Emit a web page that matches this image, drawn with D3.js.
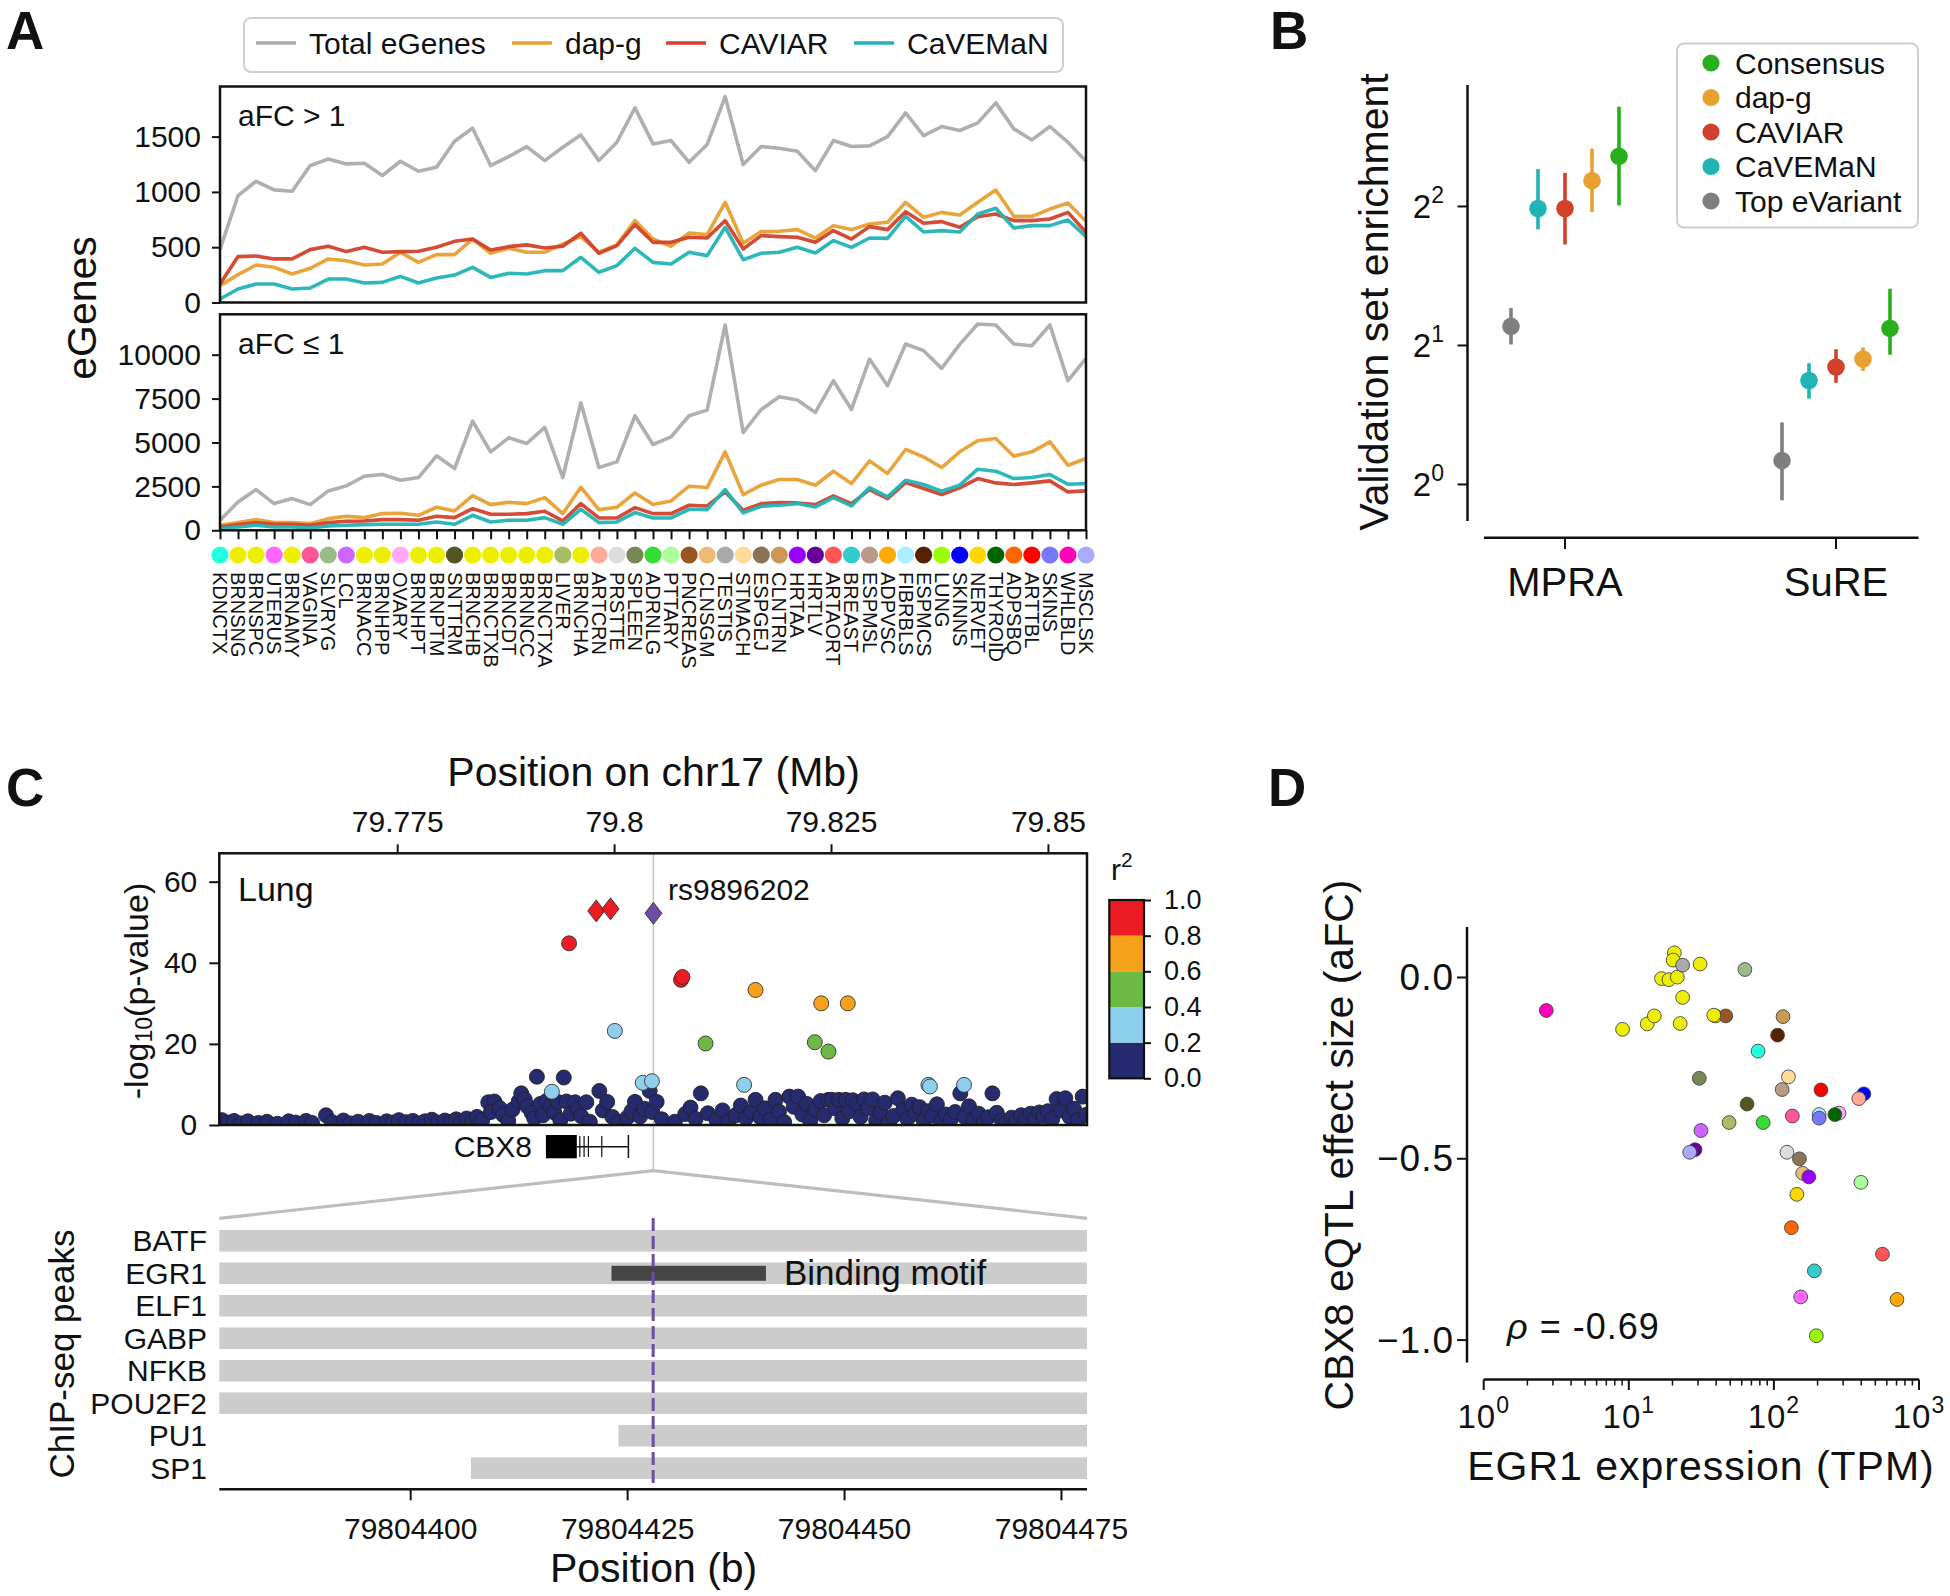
<!DOCTYPE html>
<html><head><meta charset="utf-8">
<script src="https://cdn.jsdelivr.net/npm/d3@7"></script>
<style>
body{margin:0;background:#fff}
text{font-family:"Liberation Sans",Arial,Helvetica,sans-serif;fill:#111}
</style>
</head><body>
<svg id="chart" width="1950" height="1596"></svg>
<script>
// ---------------- DATA ----------------
// Panel A
const tissues = ["KDNCTX","BRNSNG","BRNSPC","UTERUS","BRNAMY","VAGINA","SLVRYG","LCL","BRNACC","BRNHPP","OVARY","BRNHPT","BRNPTM","SNTTRM","BRNCHB","BRNCTXB","BRNCDT","BRNNCC","BRNCTXA","LIVER","BRNCHA","ARTCRN","PRSTTE","SPLEEN","ADRNLG","PTTARY","PNCREAS","CLNSGM","TESTIS","STMACH","ESPGEJ","CLNTRN","HRTAA","HRTLV","ARTAORT","BREAST","ESPMSL","ADPVSC","FIBRBLS","ESPMCS","LUNG","SKINNS","NERVET","THYROID","ADPSBQ","ARTTBL","SKINS","WHLBLD","MSCLSK"];
const tissueColors = ["#22FFDD","#EEEE00","#EEEE00","#FF66FF","#EEEE00","#FF5599","#99BB88","#CC66FF","#EEEE00","#EEEE00","#FFAAFF","#EEEE00","#EEEE00","#555522","#EEEE00","#EEEE00","#EEEE00","#EEEE00","#EEEE00","#AABB66","#EEEE00","#FFAA99","#DDDDDD","#778855","#33DD33","#AAFF99","#995522","#EEBB77","#AAAAAA","#FFDD99","#8B7355","#CC9955","#9900FF","#660099","#FF5555","#33CCCC","#BB9988","#FFAA00","#AAEEFF","#552200","#99FF00","#0000FF","#FFD700","#006600","#FF6600","#FF0000","#7777FF","#FF00BB","#AAAAFF"];
const seriesNames = ["Total eGenes","dap-g","CAVIAR","CaVEMaN"];
const seriesColors = ["#ababab","#e8a030","#d2412b","#22b3b5"];
const totalHigh = [480,967,1096,1018,1006,1238,1298,1253,1259,1148,1277,1187,1223,1458,1576,1238,1319,1410,1283,1404,1515,1283,1449,1760,1434,1464,1268,1428,1862,1247,1410,1395,1368,1192,1464,1410,1416,1500,1715,1509,1591,1555,1624,1805,1570,1470,1591,1449,1277];
const dapHigh = [152,252,339,318,258,309,394,378,339,348,454,363,433,433,574,445,490,454,454,530,596,454,521,741,574,508,629,614,906,535,641,644,659,583,695,659,710,725,906,770,815,791,906,1018,779,779,845,900,734];
const caviarHigh = [167,415,421,394,394,478,508,460,499,454,460,463,499,553,574,475,505,521,493,508,626,445,514,704,544,544,590,583,740,484,605,596,590,544,650,574,686,659,821,716,731,680,776,800,740,740,755,815,635];
const cavemanHigh = [32,122,167,167,122,131,212,212,176,182,236,176,221,248,318,227,264,258,288,288,409,273,333,490,363,348,454,424,680,387,445,454,499,448,560,499,583,580,779,638,650,638,800,852,674,695,695,746,596];
const totalLow = [570,1616,2319,1521,1806,1464,2243,2529,3080,3175,2852,3004,4240,3517,6217,4468,5266,4943,5856,3004,7262,3574,3897,6521,4886,5323,6521,6844,11692,5570,6882,7605,7414,6711,8517,6882,9753,8232,10608,10228,9220,10589,11749,11692,10608,10513,11692,8517,9791];
const dapLow = [285,437,608,437,437,380,665,798,722,950,970,855,1312,1103,1977,1464,1597,1521,1863,950,2452,1179,1312,2129,1464,1673,2510,2433,4468,2034,2567,2890,2890,2567,3365,2662,3954,3232,4601,4183,3574,4468,5095,5228,4221,4468,5038,3707,4087];
const caviarLow = [190,323,437,342,342,285,437,513,532,608,608,570,798,722,1236,913,913,950,1084,532,1521,703,703,1293,950,950,1426,1388,2186,1141,1521,1578,1559,1464,1958,1521,2319,1806,2719,2376,2034,2414,2947,2700,2605,2700,2814,2186,2243];
const cavemanLow = [95,190,285,190,190,133,247,285,323,342,342,342,475,342,855,475,570,570,722,342,1198,437,475,1008,703,703,1198,1179,2319,989,1369,1426,1521,1331,1863,1388,2433,1901,2852,2605,2224,2567,3479,3365,2947,3004,3175,2624,2662];
const topTicks = [0,500,1000,1500];
const botTicks = [0,2500,5000,7500,10000];

// Panel B
const assays = ["MPRA","SuRE"];
const methods = ["Top eVariant","CaVEMaN","CAVIAR","dap-g","Consensus"];
const methodColors = ["#7f7f7f","#22b3b5","#d2412b","#e8a030","#2aaf1c"];
const mpraEnr = [2.20,3.96,3.96,4.55,5.14];
const mpraLo  = [2.01,3.57,3.31,3.89,4.02];
const mpraHi  = [2.41,4.82,4.73,5.34,6.58];
const sureEnr = [1.126,1.679,1.796,1.869,2.180];
const sureLo  = [0.924,1.534,1.660,1.762,1.909];
const sureHi  = [1.363,1.831,1.963,1.982,2.654];
const legendBOrder = ["Consensus","dap-g","CAVIAR","CaVEMaN","Top eVariant"];

// Panel C
const mbTicks = [79.775,79.8,79.825,79.85];
const leadSnp = {pos:79.80453, logp:52.2, name:"rs9896202"};
const cPos  = [79.79794,79.79959,79.79481,79.80771,79.80788,79.81630,79.82387,79.82693,79.80008,79.81054,79.82313,79.82470,79.79283,79.80330,79.80436,79.81498,79.83622,79.83640,79.84033];
const cLogp = [52.8,53.3,44.8,35.8,36.5,33.3,30.0,30.0,23.2,20.1,20.4,18.1,8.2,10.4,10.8,9.9,9.9,9.5,9.9];
const cR2   = [0.9,0.9,0.9,0.9,0.9,0.7,0.7,0.7,0.3,0.5,0.5,0.5,0.3,0.3,0.3,0.3,0.3,0.3,0.3];
const cDiamond = [true,true,false,false,false,false,false,false,false,false,false,false,false,false,false,false,false,false,false];
const cNavy = [[79.7548,1.2],[79.7555,0.6],[79.7562,1.0],[79.7570,0.4],[79.7578,0.9],[79.7590,0.5],[79.7600,0.8],[79.7612,0.3],[79.7625,0.9],[79.7633,0.6],[79.7645,1.0],[79.7652,0.5],[79.7668,2.4],[79.7675,0.7],[79.7688,1.1],[79.7696,0.4],[79.7705,0.8],[79.7718,1.0],[79.7726,0.5],[79.7738,0.9],[79.7745,0.6],[79.7752,1.2],[79.7760,0.7],[79.7768,1.0],[79.7775,0.4],[79.7782,0.9],[79.7790,1.3],[79.7797,0.6],[79.7805,1.1],[79.7812,0.8],[79.7818,1.4],[79.7823,0.5],[79.7830,1.6],[79.7836,0.9],[79.7842,2.0],[79.7848,1.2],
[79.7855,5.6],[79.7862,5.8],[79.7858,3.2],[79.7868,4.2],[79.7872,2.5],[79.7878,1.0],[79.7883,3.8],[79.7890,5.8],[79.7893,7.8],[79.7897,6.3],[79.7900,4.6],[79.7905,3.0],[79.7908,1.6],[79.7911,11.9],[79.7915,5.2],[79.7918,2.4],[79.7922,5.9],[79.7927,4.4],[79.7931,3.1],[79.7935,5.7],[79.7938,1.2],[79.7942,11.7],[79.7945,5.8],[79.7950,2.8],[79.7955,5.6],[79.7958,4.0],[79.7962,2.2],[79.7968,5.6],[79.7972,0.8],[79.7983,8.4],[79.7987,3.6],[79.7992,5.7],[79.7998,2.0],[79.8005,0.6],[79.8015,1.8],[79.8020,3.4],[79.8024,5.7],[79.8030,2.1],[79.8035,4.0],[79.8041,8.4],[79.8044,3.2],[79.8049,5.7],[79.8055,1.4],[79.8070,0.8],[79.8082,2.7],[79.8088,4.3],[79.8094,1.5],[79.8100,7.8],[79.8108,2.9],[79.8118,1.2],[79.8125,3.6],[79.8132,0.9],[79.8140,2.4],[79.8146,4.8],[79.8152,1.7],[79.8158,3.2],[79.8163,6.2],[79.8168,2.0],[79.8174,4.1],[79.8180,1.3],[79.8186,6.2],[79.8190,3.3],[79.8196,0.7],[79.8202,7.0],[79.8207,4.5],[79.8212,7.0],[79.8217,2.6],[79.8222,5.2],[79.8226,1.0],
[79.8232,3.8],[79.8238,5.9],[79.8242,2.4],[79.8247,6.2],[79.8251,6.2],[79.8255,4.1],[79.8259,6.2],[79.8263,1.6],[79.8267,6.2],[79.8271,3.4],[79.8275,6.1],[79.8280,5.3],[79.8284,2.0],[79.8288,6.3],[79.8293,4.2],[79.8298,6.3],[79.8302,1.1],[79.8307,3.0],[79.8312,5.5],[79.8317,0.8],[79.8322,2.2],[79.8327,6.6],[79.8333,3.7],[79.8338,1.5],[79.8343,5.0],[79.8347,2.8],[79.8352,4.4],[79.8357,1.0],[79.8362,3.4],[79.8367,2.3],[79.8372,5.1],[79.8377,0.9],[79.8382,2.6],[79.8388,1.4],[79.8393,3.2],[79.8399,7.8],[79.8404,2.0],[79.8409,4.6],[79.8414,1.2],[79.8420,2.8],[79.8426,0.7],[79.8431,1.9],[79.8436,7.8],[79.8441,3.0],[79.8447,1.1],[79.8452,0.6],[79.8458,1.8],[79.8463,0.9],[79.8469,2.4],[79.8474,1.2],[79.8480,2.8],[79.8485,1.6],[79.8490,3.1],[79.8495,2.2],[79.8500,3.4],[79.8505,1.5],[79.8510,6.4],[79.8515,3.6],[79.8520,6.6],[79.8525,2.0],[79.8530,4.0],[79.8535,1.3],[79.8540,7.0],[79.8544,2.5]];
const r2Bins = [0,0.2,0.4,0.6,0.8,1.0];
const r2Colors = ["#262a6e","#8ecfee","#6cb944","#f6a11a","#ec1c24"];
const geneExon = [79.79214,79.79570];
const geneLines = [79.79605,79.79654,79.79704,79.79858];
const geneEnd = 79.80165;
const tfs = ["BATF","EGR1","ELF1","GABP","NFKB","POU2F2","PU1","SP1"];
const tfStart = [79804370,79804370,79804370,79804370,79804370,79804370,79804424,79804407];
const tfEnd = [79804480,79804480,79804480,79804480,79804480,79804480,79804480,79804480];
const motif = [79804423.2,79804441];
const snpBase = 79804428;
const baseTicks = [79804400,79804425,79804450,79804475];

// Panel D
const dTissue = ["WHLBLD","BRNSNG","BRNSPC","BRNAMY","BRNACC","BRNHPP","BRNHPT","BRNPTM","BRNCHB","BRNCTXB","BRNCDT","TESTIS","BRNNCC","BRNCTXA","PNCREAS","SLVRYG","CLNTRN","ESPMCS","KDNCTX","SPLEEN","STMACH","ESPMSL","ARTTBL","SKINNS","ARTCRN","SNTTRM","VAGINA","FIBRBLS","SKINS","OVARY","THYROID","LIVER","ADRNLG","LCL","HRTLV","MSCLSK","PRSTTE","ESPGEJ","CLNSGM","HRTAA","PTTARY","NERVET","ADPSBQ","ARTAORT","BREAST","UTERUS","ADPVSC","LUNG","BRNCHA"];
const dExpr = [2.70,9.06,13.4,15.0,22.6,23.5,16.8,18.9,21.6,20.6,20.2,23.5,31.0,39.5,46.6,63.1,115.6,106,77.8,30.6,126,114,211,417,385,65.3,134,205,205,281,263,49.1,84.3,31.4,28.6,26.3,123,150,158,174,398,144,132,560,190,153,705,196,38.5];
const dAfc = [-0.091,-0.143,-0.128,-0.106,-0.127,-0.055,-0.003,-0.006,0.001,0.068,0.048,0.034,0.037,-0.106,-0.106,0.022,-0.108,-0.159,-0.203,-0.278,-0.274,-0.309,-0.310,-0.321,-0.334,-0.349,-0.382,-0.378,-0.388,-0.374,-0.378,-0.400,-0.400,-0.422,-0.475,-0.482,-0.482,-0.500,-0.540,-0.550,-0.565,-0.598,-0.690,-0.763,-0.809,-0.881,-0.888,-0.988,-0.104];
const dYTicks = [0.0,-0.5,-1.0];
const rho = "-0.69";

// ---------------- DRAW ----------------
const svg = d3.select("#chart");
svg.append("rect").attr("width",1950).attr("height",1596).attr("fill","#fff");
const defs = svg.append("defs");
function clip(id,x,y,w,h){defs.append("clipPath").attr("id",id).append("rect").attr("x",x).attr("y",y).attr("width",w).attr("height",h);}
function panelLabel(t,x,y){svg.append("text").attr("x",x).attr("y",y).attr("font-size",53).attr("font-weight","bold").attr("fill","#000").text(t);}
function styleAxis(g,fs){g.selectAll("text").attr("font-size",fs).attr("fill","#111").attr("font-family",'"Liberation Sans",Arial,sans-serif');g.selectAll("line").attr("stroke","#111").attr("stroke-width",2);g.select(".domain").remove();}

// ===== Panel A =====
panelLabel("A",6,49);
const xA = d3.scalePoint().domain(tissues).range([220,1086]);
const yTop = d3.scaleLinear().domain([0,1953]).range([302.5,86.5]);
const yBot = d3.scaleLinear().domain([0,12300]).range([530.3,314.3]);
clip("clipTop",220,86.5,866,216);
clip("clipBot",220,314.3,866,216);
const hiSeries=[totalHigh,dapHigh,caviarHigh,cavemanHigh];
const loSeries=[totalLow,dapLow,caviarLow,cavemanLow];
function drawLines(data,ys,clipId){
  const g=svg.append("g").attr("clip-path",`url(#${clipId})`);
  data.forEach((arr,k)=>{
    const ln=d3.line().x((d,i)=>xA(tissues[i])).y(d=>ys(d));
    g.append("path").attr("d",ln(arr)).attr("fill","none").attr("stroke",seriesColors[k]).attr("stroke-width",3.6).attr("stroke-linejoin","round").attr("opacity",0.95);
  });
}
drawLines(hiSeries,yTop,"clipTop");
drawLines(loSeries,yBot,"clipBot");
[[yTop,86.5,216],[yBot,314.3,216]].forEach(([s,y0,h])=>{
  svg.append("rect").attr("x",220).attr("y",y0).attr("width",866).attr("height",h).attr("fill","none").attr("stroke","#111").attr("stroke-width",2.5);
});
let g=svg.append("g").attr("transform","translate(220,0)").call(d3.axisLeft(yTop).tickValues(topTicks).tickSize(8).tickPadding(11).tickFormat(d3.format("d")));
styleAxis(g,30);
g=svg.append("g").attr("transform","translate(220,0)").call(d3.axisLeft(yBot).tickValues(botTicks).tickSize(8).tickPadding(11).tickFormat(d3.format("d")));
styleAxis(g,30);
g=svg.append("g").attr("transform","translate(0,530.3)").call(d3.axisBottom(xA).tickSize(9).tickFormat(""));
styleAxis(g,20);
svg.append("text").attr("x",238).attr("y",126).attr("font-size",30).text("aFC > 1");
svg.append("text").attr("x",238).attr("y",354).attr("font-size",30).text("aFC ≤ 1");
svg.append("text").attr("transform","translate(82,308) rotate(-90)").attr("text-anchor","middle").attr("dominant-baseline","central").attr("font-size",41).text("eGenes");
tissues.forEach((t,i)=>{
  svg.append("circle").attr("cx",xA(t)).attr("cy",555).attr("r",8.6).attr("fill",tissueColors[i]);
  svg.append("text").attr("transform",`translate(${xA(t)},572) rotate(90)`).attr("dominant-baseline","central").attr("font-size",20).attr("fill","#222").text(t);
});
svg.append("rect").attr("x",244).attr("y",18).attr("width",819).attr("height",54).attr("rx",7).attr("fill","#fff").attr("stroke","#cfcfcf").attr("stroke-width",2);
const legAx=[256,512,666,854];
seriesNames.forEach((n,k)=>{
  svg.append("line").attr("x1",legAx[k]).attr("x2",legAx[k]+40).attr("y1",43).attr("y2",43).attr("stroke",seriesColors[k]).attr("stroke-width",3.6);
  svg.append("text").attr("x",legAx[k]+53).attr("y",43).attr("dominant-baseline","central").attr("font-size",30).text(n);
});

// ===== Panel B =====
panelLabel("B",1270,49);
const xB = d3.scalePoint().domain(assays).range([1565,1836]);
const hueB = d3.scalePoint().domain(methods).range([-54,54]);
const yB = d3.scaleLog().base(2).domain([Math.pow(2,-0.263),Math.pow(2,2.874)]).range([521,85]);
svg.append("line").attr("x1",1467.5).attr("x2",1467.5).attr("y1",85).attr("y2",521).attr("stroke","#111").attr("stroke-width",2.5);
svg.append("line").attr("x1",1484).attr("x2",1918.5).attr("y1",537.8).attr("y2",537.8).attr("stroke","#111").attr("stroke-width",2.5);
[1,2,4].forEach((v,i)=>{
  svg.append("line").attr("x1",1457.5).attr("x2",1467.5).attr("y1",yB(v)).attr("y2",yB(v)).attr("stroke","#111").attr("stroke-width",2);
  const t=svg.append("text").attr("x",1444).attr("y",yB(v)+12).attr("text-anchor","end").attr("font-size",33);
  t.append("tspan").text("2");
  t.append("tspan").attr("dy",-15).attr("font-size",23).text(String(i));
});
assays.forEach(a=>{
  svg.append("line").attr("x1",xB(a)).attr("x2",xB(a)).attr("y1",537.8).attr("y2",549).attr("stroke","#111").attr("stroke-width",2);
  svg.append("text").attr("x",xB(a)).attr("y",582).attr("text-anchor","middle").attr("dominant-baseline","central").attr("font-size",40).text(a);
});
const bEnr=[mpraEnr,sureEnr], bLo=[mpraLo,sureLo], bHi=[mpraHi,sureHi];
assays.forEach((a,ai)=>{
  methods.forEach((m,mi)=>{
    const x=xB(a)+hueB(m);
    svg.append("line").attr("x1",x).attr("x2",x).attr("y1",yB(bLo[ai][mi])).attr("y2",yB(bHi[ai][mi])).attr("stroke",methodColors[mi]).attr("stroke-width",3.6);
    svg.append("circle").attr("cx",x).attr("cy",yB(bEnr[ai][mi])).attr("r",8.8).attr("fill",methodColors[mi]);
  });
});
svg.append("text").attr("transform","translate(1374,302) rotate(-90)").attr("text-anchor","middle").attr("dominant-baseline","central").attr("font-size",41).text("Validation set enrichment");
svg.append("rect").attr("x",1677).attr("y",43.5).attr("width",241).attr("height",184).attr("rx",7).attr("fill","#fff").attr("fill-opacity",0.8).attr("stroke","#cfcfcf").attr("stroke-width",2);
const legBy = d3.scalePoint().domain(legendBOrder).range([63,201]);
legendBOrder.forEach(n=>{
  const mi=methods.indexOf(n);
  svg.append("circle").attr("cx",1711).attr("cy",legBy(n)).attr("r",8.6).attr("fill",methodColors[mi]);
  svg.append("text").attr("x",1735).attr("y",legBy(n)).attr("dominant-baseline","central").attr("font-size",30).text(n);
});

// ===== Panel C =====
panelLabel("C",6,806);
const xC = d3.scaleLinear().domain([79.7545,79.8545]).range([219.3,1087]);
const yC = d3.scaleLinear().domain([0,67]).range([1125,853.3]);
clip("clipC",219.3,853.3,867.7,271.7);
svg.append("text").attr("x",653.6).attr("y",772).attr("text-anchor","middle").attr("dominant-baseline","central").attr("font-size",41).text("Position on chr17 (Mb)");
g=svg.append("g").attr("transform","translate(0,853.3)").call(d3.axisTop(xC).tickValues(mbTicks).tickSize(9).tickPadding(12).tickFormat(d=>String(d)));
styleAxis(g,30);
g=svg.append("g").attr("transform","translate(219.3,0)").call(d3.axisLeft(yC).tickValues([0,20,40,60]).tickSize(10).tickPadding(12));
styleAxis(g,30);
svg.append("line").attr("x1",xC(leadSnp.pos)).attr("x2",xC(leadSnp.pos)).attr("y1",853.3).attr("y2",1170.7).attr("stroke","#c4c4c4").attr("stroke-width",1.6);
const gC=svg.append("g").attr("clip-path","url(#clipC)");
const r2Color=r=>r2Colors[Math.min(4,Math.floor(r/0.2))];
cNavy.forEach(([p,v])=>{
  gC.append("circle").attr("cx",xC(p)).attr("cy",yC(v)).attr("r",7.5).attr("fill",r2Colors[0]).attr("stroke","#222").attr("stroke-width",0.9);
});
const order=d3.range(cPos.length).sort((a,b)=>cR2[a]-cR2[b]);
order.forEach(i=>{
  const x=xC(cPos[i]), y=yC(cLogp[i]);
  if(cDiamond[i]){
    gC.append("path").attr("transform",`translate(${x},${y})`).attr("d","M0,-11L8.5,0L0,11L-8.5,0Z").attr("fill",r2Color(cR2[i])).attr("stroke","#333").attr("stroke-width",0.9);
  } else {
    gC.append("circle").attr("cx",x).attr("cy",y).attr("r",7.5).attr("fill",r2Color(cR2[i])).attr("stroke","#333").attr("stroke-width",0.9);
  }
});
gC.append("path").attr("transform",`translate(${xC(leadSnp.pos)},${yC(leadSnp.logp)})`).attr("d","M0,-11L8.5,0L0,11L-8.5,0Z").attr("fill","#6c4da3").attr("stroke","#333").attr("stroke-width",0.9);
svg.append("rect").attr("x",219.3).attr("y",853.3).attr("width",867.7).attr("height",271.7).attr("fill","none").attr("stroke","#111").attr("stroke-width",2.5);
svg.append("text").attr("x",238).attr("y",889).attr("dominant-baseline","central").attr("font-size",34).text("Lung");
svg.append("text").attr("x",668).attr("y",889).attr("dominant-baseline","central").attr("font-size",30).text(leadSnp.name);
{
  const t=svg.append("text").attr("transform","translate(136,991) rotate(-90)").attr("text-anchor","middle").attr("dominant-baseline","central").attr("font-size",34);
  t.append("tspan").text("-log");
  t.append("tspan").attr("dy",8).attr("font-size",23).text("10");
  t.append("tspan").attr("dy",-8).text("(p-value)");
}
const yCB = d3.scaleLinear().domain([0,1]).range([1078.3,900]);
r2Colors.forEach((c,i)=>{
  svg.append("rect").attr("x",1109.3).attr("y",yCB(r2Bins[i+1])).attr("width",34.7).attr("height",yCB(r2Bins[i])-yCB(r2Bins[i+1])).attr("fill",c);
});
svg.append("rect").attr("x",1109.3).attr("y",900).attr("width",34.7).attr("height",178.3).attr("fill","none").attr("stroke","#111").attr("stroke-width",2.2);
g=svg.append("g").attr("transform","translate(1144,0)").call(d3.axisRight(yCB).tickValues(r2Bins).tickSize(7).tickPadding(13).tickFormat(d3.format(".1f")));
styleAxis(g,27);
{
  const t=svg.append("text").attr("x",1111).attr("y",880).attr("font-size",30);
  t.append("tspan").text("r");
  t.append("tspan").attr("dy",-13).attr("font-size",21).text("2");
}
svg.append("text").attr("x",532).attr("y",1146).attr("text-anchor","end").attr("dominant-baseline","central").attr("font-size",30).text("CBX8");
svg.append("line").attr("x1",xC(geneExon[1])).attr("x2",xC(geneEnd)).attr("y1",1146.7).attr("y2",1146.7).attr("stroke","#111").attr("stroke-width",1.5);
svg.append("rect").attr("x",xC(geneExon[0])).attr("y",1135).attr("width",xC(geneExon[1])-xC(geneExon[0])).attr("height",23.3).attr("fill","#000");
geneLines.forEach(p=>svg.append("line").attr("x1",xC(p)).attr("x2",xC(p)).attr("y1",1136).attr("y2",1157).attr("stroke","#111").attr("stroke-width",1.2));
svg.append("line").attr("x1",xC(geneEnd)).attr("x2",xC(geneEnd)).attr("y1",1135).attr("y2",1158).attr("stroke","#111").attr("stroke-width",1.5);
svg.append("path").attr("d",d3.line()([[219.3,1218.3],[xC(leadSnp.pos),1170.7],[1087,1218.3]])).attr("fill","none").attr("stroke","#bdbdbd").attr("stroke-width",3.2);
const xBase = d3.scaleLinear().domain([79804378,79804478]).range([219.3,1087]);
const yTf = d3.scalePoint().domain(tfs).range([1240.8,1468.2]);
clip("clipChip",219.3,1200,867.7,300);
const gP=svg.append("g").attr("clip-path","url(#clipChip)");
tfs.forEach((t,i)=>{
  gP.append("rect").attr("x",xBase(tfStart[i])).attr("y",yTf(t)-10.8).attr("width",xBase(tfEnd[i])-xBase(tfStart[i])).attr("height",21.6).attr("fill","#cccccc");
  svg.append("text").attr("x",207).attr("y",yTf(t)).attr("text-anchor","end").attr("dominant-baseline","central").attr("font-size",30).text(t);
});
svg.append("rect").attr("x",xBase(motif[0])).attr("y",yTf("EGR1")-7.5).attr("width",xBase(motif[1])-xBase(motif[0])).attr("height",15).attr("fill","#454545");
svg.append("text").attr("x",784).attr("y",1272).attr("dominant-baseline","central").attr("font-size",35).text("Binding motif");
svg.append("line").attr("x1",xBase(snpBase)).attr("x2",xBase(snpBase)).attr("y1",1218).attr("y2",1489).attr("stroke","#6c4da3").attr("stroke-width",3).attr("stroke-dasharray","13,5");
g=svg.append("g").attr("transform","translate(0,1489.3)").call(d3.axisBottom(xBase).tickValues(baseTicks).tickSize(11).tickPadding(17).tickFormat(d3.format("d")));
styleAxis(g,30);
svg.append("line").attr("x1",219.3).attr("x2",1087).attr("y1",1489.3).attr("y2",1489.3).attr("stroke","#111").attr("stroke-width",2.5);
svg.append("text").attr("x",653.6).attr("y",1568).attr("text-anchor","middle").attr("dominant-baseline","central").attr("font-size",41).text("Position (b)");
svg.append("text").attr("transform","translate(61,1354) rotate(-90)").attr("text-anchor","middle").attr("dominant-baseline","central").attr("font-size",35).text("ChIP-seq peaks");

// ===== Panel D =====
panelLabel("D",1268,806);
const xD = d3.scaleLog().domain([1,1000]).range([1483.7,1919]);
const yD = d3.scaleLinear().domain([-1.0618,0.1395]).range([1362.5,926.9]);
svg.append("line").attr("x1",1467).attr("x2",1467).attr("y1",926.9).attr("y2",1362.5).attr("stroke","#111").attr("stroke-width",2.5);
svg.append("line").attr("x1",1483.7).attr("x2",1919).attr("y1",1379.5).attr("y2",1379.5).attr("stroke","#111").attr("stroke-width",2.5);
dYTicks.forEach(v=>{
  svg.append("line").attr("x1",1457).attr("x2",1467).attr("y1",yD(v)).attr("y2",yD(v)).attr("stroke","#111").attr("stroke-width",2);
  svg.append("text").attr("x",1454).attr("y",yD(v)).attr("text-anchor","end").attr("dominant-baseline","central").attr("font-size",37).attr("letter-spacing",1).text(d3.format(".1f")(v).replace("-","−"));
});
[1,10,100,1000].forEach((v,i)=>{
  svg.append("line").attr("x1",xD(v)).attr("x2",xD(v)).attr("y1",1379.5).attr("y2",1390).attr("stroke","#111").attr("stroke-width",2);
  const t=svg.append("text").attr("x",xD(v)).attr("y",1428).attr("text-anchor","middle").attr("font-size",33).attr("letter-spacing",1);
  t.append("tspan").text("10");
  t.append("tspan").attr("dy",-15).attr("font-size",23).text(String(i));
  if(i<3){ d3.range(2,10).forEach(m=>{
    svg.append("line").attr("x1",xD(m*v)).attr("x2",xD(m*v)).attr("y1",1379.5).attr("y2",1385.5).attr("stroke","#111").attr("stroke-width",1.5);
  });}
});
const tColor = t=>tissueColors[tissues.indexOf(t)];
dTissue.forEach((t,i)=>{
  svg.append("circle").attr("cx",xD(dExpr[i])).attr("cy",yD(dAfc[i])).attr("r",6.9).attr("fill",tColor(t)).attr("stroke","#444").attr("stroke-width",0.9);
});
{
  const t=svg.append("text").attr("x",1507).attr("y",1326).attr("dominant-baseline","central").attr("font-size",36).attr("letter-spacing",1);
  t.append("tspan").attr("font-style","italic").text("ρ");
  t.append("tspan").text(" = "+rho);
}
svg.append("text").attr("x",1701).attr("y",1466).attr("text-anchor","middle").attr("dominant-baseline","central").attr("font-size",41).attr("letter-spacing",1).text("EGR1 expression (TPM)");
svg.append("text").attr("transform","translate(1339,1145) rotate(-90)").attr("text-anchor","middle").attr("dominant-baseline","central").attr("font-size",41).text("CBX8 eQTL effect size (aFC)");
</script>
</body></html>
